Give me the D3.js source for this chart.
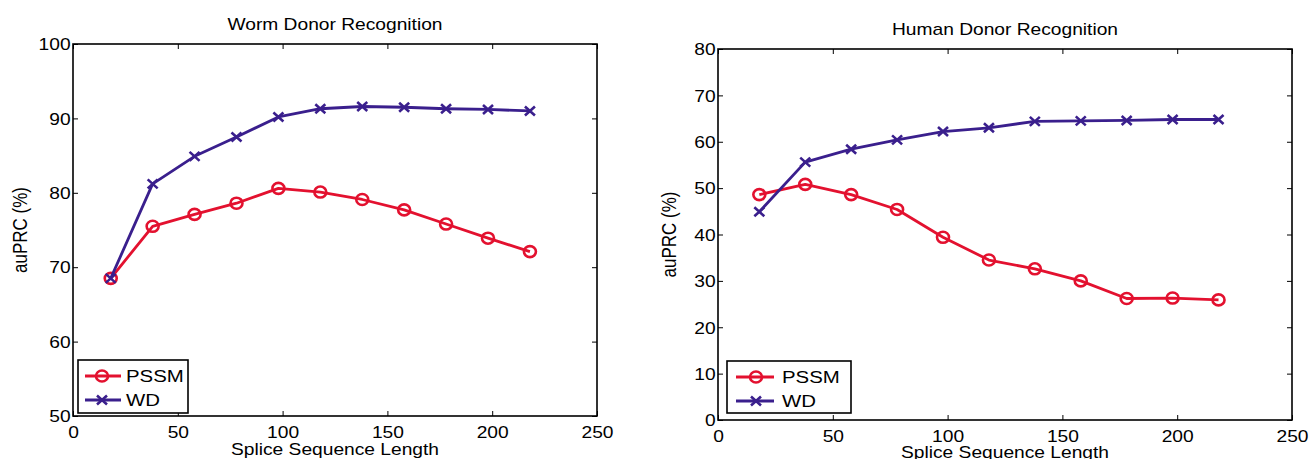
<!DOCTYPE html>
<html>
<head>
<meta charset="utf-8">
<script src="https://cdn.jsdelivr.net/npm/d3@7"></script>
<style>
  body { margin: 0; background: #fff; }
  text { font-family: "Liberation Sans", Arial, Helvetica, sans-serif; fill: #000; }
</style>
</head>
<body>
<script>
// splice sequence lengths (x values)
var lengths = [18, 38, 58, 78, 98, 118, 138, 158, 178, 198, 218];

var wormPSSM = [68.5, 75.5, 77.1, 78.6, 80.6, 80.1, 79.1, 77.7, 75.8, 73.9, 72.1];
var wormWD = [68.5, 81.2, 84.9, 87.5, 90.2, 91.3, 91.6, 91.5, 91.3, 91.2, 91.0];
var humanPSSM = [48.6, 50.8, 48.6, 45.4, 39.4, 34.5, 32.6, 30.0, 26.2, 26.3, 25.9];
var humanWD = [44.9, 55.6, 58.4, 60.4, 62.2, 63.0, 64.4, 64.5, 64.6, 64.8, 64.8];

var xTicks = [0, 50, 100, 150, 200, 250];
var wormTicks = [50, 60, 70, 80, 90, 100];
var humanTicks = [0, 10, 20, 30, 40, 50, 60, 70, 80];

var seriesNames = ["PSSM", "WD"];
var seriesColors = ["#e3112f", "#3a1f8d"];

var stretch = 1.2; // the picture is a bit wider than tall, text too
var svg = d3.select("body").append("svg")
  .attr("width", 1312)
  .attr("height", 459);

var panels = [
  { title: "Worm Donor Recognition", series: [wormPSSM, wormWD], yDomain: [50, 100], yTicks: wormTicks,
    left: 73, right: 597, top: 44, bottom: 416, titleY: 30, ylabelX: 27, xlabelY: 455,
    legend: { x: 78, y: 360, w: 110, h: 53, l0: 7, l1: 43, m: 24, t: 48 } },
  { title: "Human Donor Recognition", series: [humanPSSM, humanWD], yDomain: [0, 80], yTicks: humanTicks,
    left: 718, right: 1292, top: 49, bottom: 420, titleY: 35, ylabelX: 676, xlabelY: 458,
    legend: { x: 727, y: 361, w: 124, h: 52, l0: 9, l1: 47, m: 29, t: 55 } }
];

function stretchText(sel) {
  sel.attr("transform", function () {
    var t = d3.select(this).attr("transform");
    return (t ? t + " " : "") + "scale(" + stretch + ",1)";
  });
}

panels.forEach(function (p) {
  var x = d3.scaleLinear().domain([0, 250]).range([p.left, p.right]);
  var y = d3.scaleLinear().domain(p.yDomain).range([p.bottom, p.top]);
  var g = svg.append("g");

  // ticks on all four sides, pointing in
  g.append("g")
    .attr("transform", "translate(0," + p.bottom + ")")
    .call(d3.axisBottom(x).tickValues(xTicks).tickSize(-5).tickPadding(17))
    .call(function (a) {
      a.select(".domain").remove();
      a.selectAll("text").style("font-size", "16px").attr("dy", "0.32em");
    });
  g.append("g")
    .attr("transform", "translate(0," + p.top + ")")
    .call(d3.axisTop(x).tickValues(xTicks).tickSize(-5).tickFormat(""))
    .select(".domain").remove();
  g.append("g")
    .attr("transform", "translate(" + p.left + ",0)")
    .call(d3.axisLeft(y).tickValues(p.yTicks).tickSize(-5).tickPadding(2))
    .call(function (a) {
      a.select(".domain").remove();
      a.selectAll("text").style("font-size", "16px").attr("dy", "0.36em");
    });
  g.append("g")
    .attr("transform", "translate(" + p.right + ",0)")
    .call(d3.axisRight(y).tickValues(p.yTicks).tickSize(-5).tickFormat(""))
    .select(".domain").remove();
  g.selectAll(".tick line").attr("stroke", "#000").attr("stroke-width", 1);
  g.selectAll(".tick text").call(stretchText);

  g.append("rect")
    .attr("x", p.left).attr("y", p.top)
    .attr("width", p.right - p.left).attr("height", p.bottom - p.top)
    .attr("fill", "none").attr("stroke", "#000").attr("stroke-width", 1.6);

  // titles and labels
  g.append("text")
    .attr("text-anchor", "middle")
    .attr("transform", "translate(" + (p.left + p.right) / 2 + "," + p.titleY + ") scale(" + stretch + ",1)")
    .style("font-size", "16px")
    .text(p.title);
  g.append("text")
    .attr("text-anchor", "middle")
    .attr("transform", "translate(" + (p.left + p.right) / 2 + "," + p.xlabelY + ") scale(" + stretch + ",1)")
    .style("font-size", "16px")
    .text("Splice Sequence Length");
  g.append("text")
    .attr("text-anchor", "middle")
    .attr("transform", "translate(" + p.ylabelX + "," + (p.top + p.bottom) / 2 + ") scale(" + stretch + ",1) rotate(-90)")
    .style("font-size", "17px")
    .text("auPRC (%)");

  var line = d3.line()
    .x(function (d, i) { return x(lengths[i]); })
    .y(function (d) { return y(d); });

  p.series.forEach(function (vals, si) {
    var col = seriesColors[si];
    g.append("path")
      .datum(vals)
      .attr("d", line)
      .attr("fill", "none")
      .attr("stroke", col)
      .attr("stroke-width", 2.8)
      .attr("stroke-linejoin", "round");
    drawMarkers(g, vals.map(function (v, i) { return [x(lengths[i]), y(v)]; }), si, col);
  });

  // legend
  var L = p.legend;
  g.append("rect")
    .attr("x", L.x).attr("y", L.y).attr("width", L.w).attr("height", L.h)
    .attr("fill", "#fff").attr("stroke", "#000").attr("stroke-width", 1.6);
  seriesNames.forEach(function (name, si) {
    var ry = L.y + 16 + si * 24;
    g.append("line")
      .attr("x1", L.x + L.l0).attr("x2", L.x + L.l1)
      .attr("y1", ry).attr("y2", ry)
      .attr("stroke", seriesColors[si]).attr("stroke-width", 2.8);
    drawMarkers(g, [[L.x + L.m, ry]], si, seriesColors[si]);
    g.append("text")
      .attr("transform", "translate(" + (L.x + L.t) + "," + (ry + 6) + ") scale(" + stretch + ",1)")
      .style("font-size", "17px")
      .text(name);
  });
});

function drawMarkers(g, pts, si, col) {
  if (si === 0) {
    g.selectAll(null).data(pts).enter().append("ellipse")
      .attr("cx", function (d) { return d[0]; })
      .attr("cy", function (d) { return d[1]; })
      .attr("rx", 6).attr("ry", 5.5)
      .attr("fill", "none").attr("stroke", col).attr("stroke-width", 2.6);
  } else {
    g.selectAll(null).data(pts).enter().append("path")
      .attr("d", function (d) {
        return "M" + (d[0] - 5) + "," + (d[1] - 4.5) + "L" + (d[0] + 5) + "," + (d[1] + 4.5) +
          "M" + (d[0] + 5) + "," + (d[1] - 4.5) + "L" + (d[0] - 5) + "," + (d[1] + 4.5);
      })
      .attr("fill", "none").attr("stroke", col).attr("stroke-width", 2.6);
  }
}
</script>
</body>
</html>
